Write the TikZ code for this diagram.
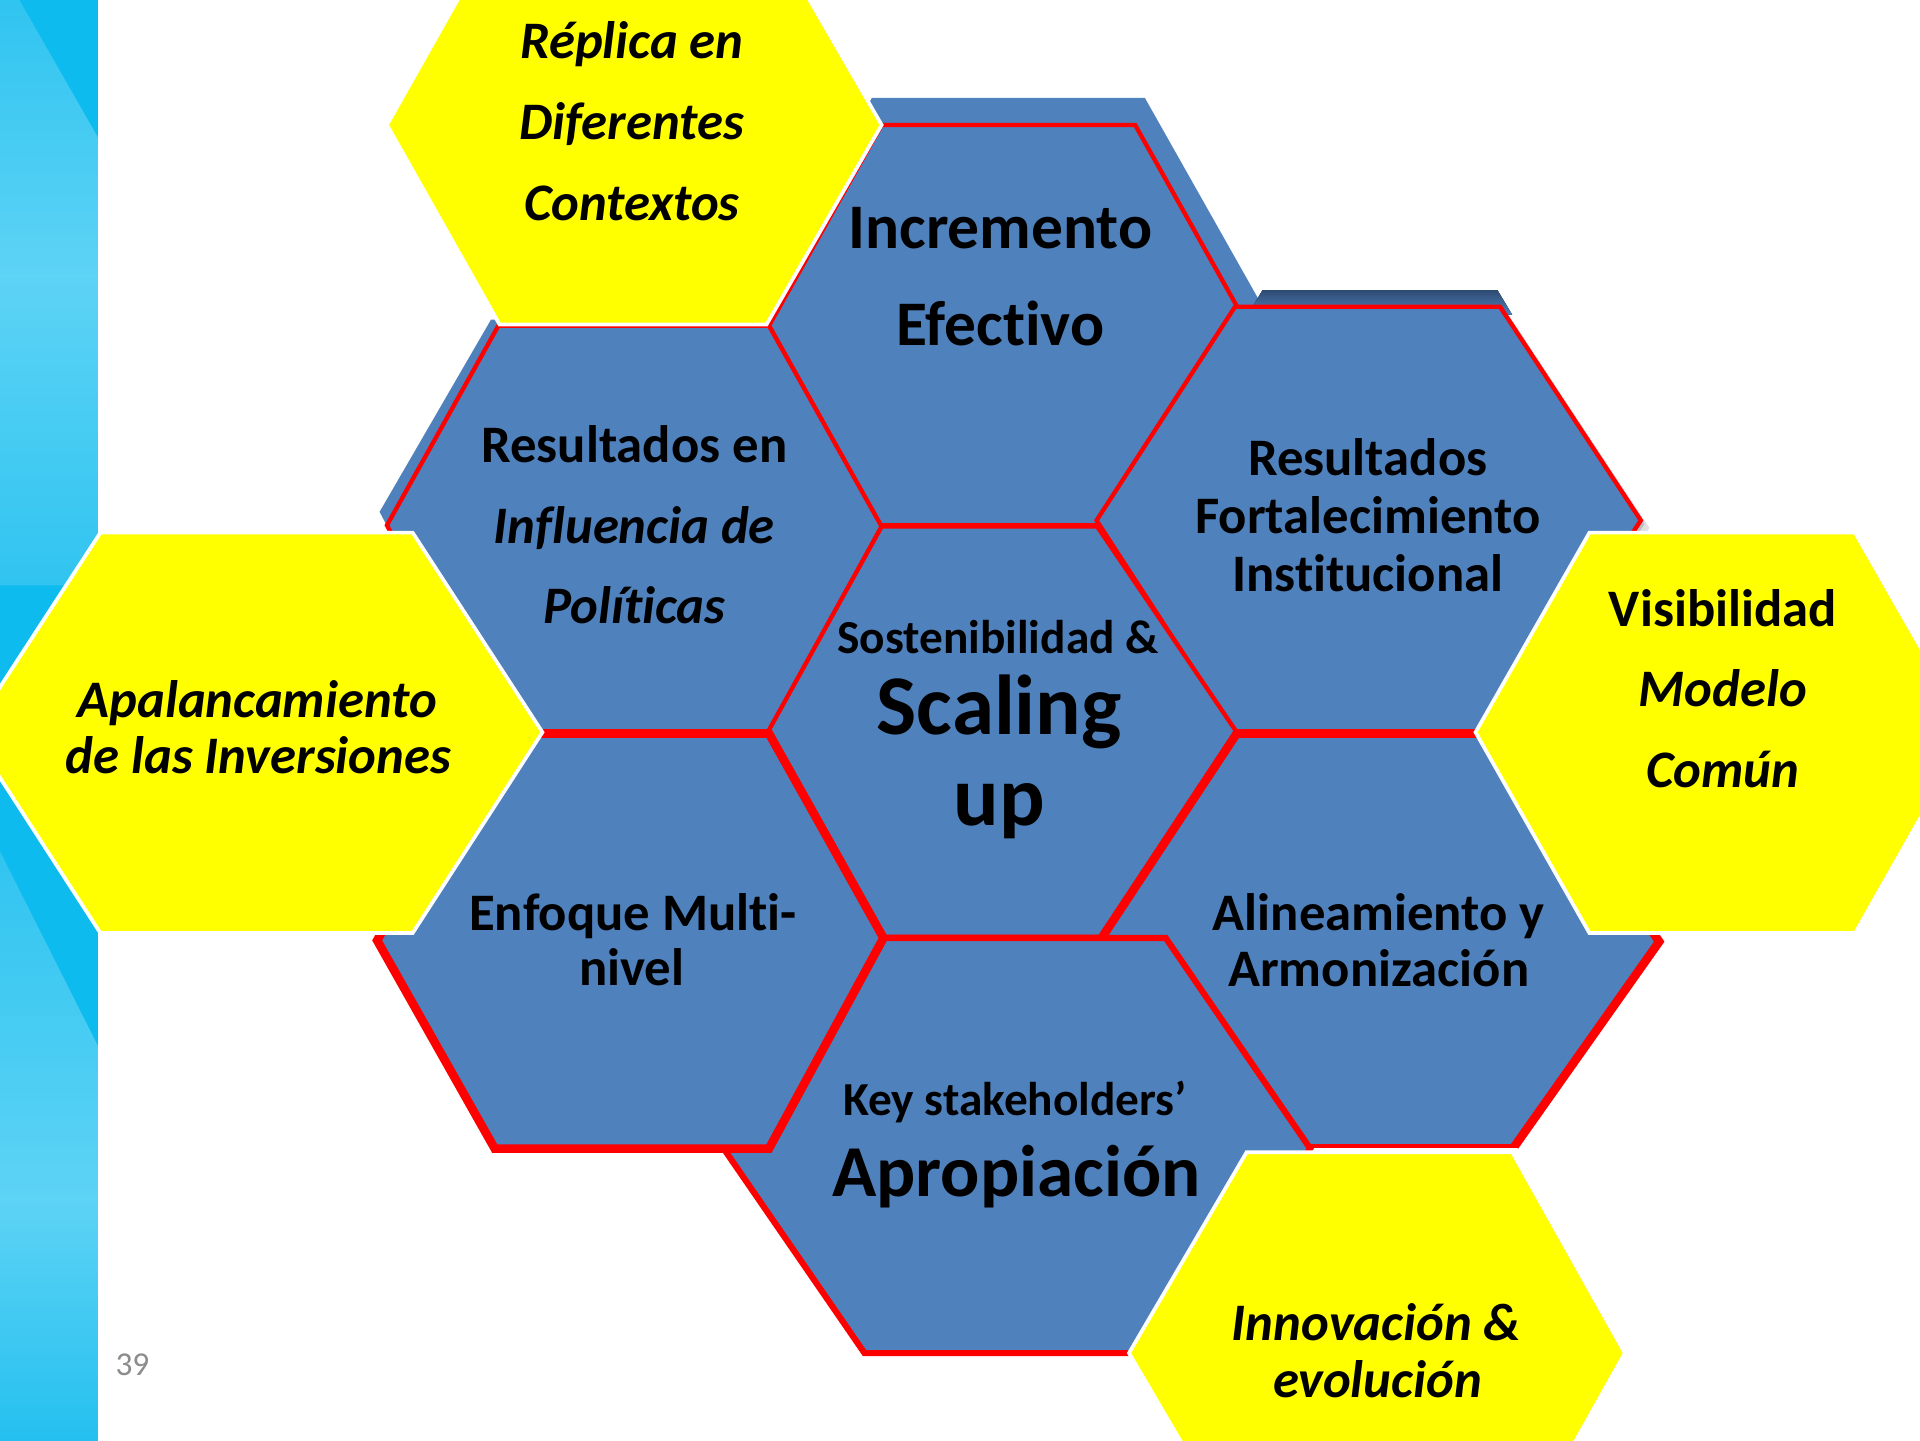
\documentclass[tikz,border=0pt]{standalone}
\usepackage{fontspec}
\setmainfont{Carlito}[Ligatures=NoCommon]
\definecolor{hexblue}{HTML}{4F81BD}
\definecolor{hexred}{HTML}{FF0000}
\definecolor{hexyellow}{HTML}{FFFF00}
\definecolor{stripdark}{HTML}{0DBBEE}
\definecolor{stripmid}{HTML}{30C4F0}
\definecolor{striplight}{HTML}{5DD3F5}
\definecolor{stripbot}{HTML}{25C0EF}
\definecolor{shadownavy}{HTML}{2E4B72}
\definecolor{pagegray}{HTML}{8C8C8C}
\begin{document}
\begin{tikzpicture}[x=0.2mm,y=-0.2mm, line join=miter,
  bluehex/.style={fill=hexblue},
  thinred/.style={draw=hexred, line width=2pt},
  medred/.style={draw=hexred, line width=2.85pt},
  thickred/.style={draw=hexred, line width=4pt},
  yhex/.style={fill=hexyellow, draw=white, line width=1.7pt},
  lbl/.style={anchor=base, inner sep=0pt, font=\bfseries\fontsize{24.5}{29}\selectfont},
  ilbl/.style={anchor=base, inner sep=0pt, font=\bfseries\itshape\fontsize{24.5}{29}\selectfont},
]
\useasboundingbox (0,0) rectangle (1568,1176);
\fill[white] (0,0) rectangle (1568,1176);

% ---- left strip ----
\fill[top color=stripmid, bottom color=striplight] (0,0) rectangle (80,225);
\fill[top color=striplight, bottom color=stripmid] (0,225) rectangle (80,480);
\fill[stripdark] (16,0) -- (80,0) -- (80,112) -- cycle;
\fill[stripdark] (0,478) -- (60,478) -- (0,570) -- cycle;
\fill[top color=stripmid, bottom color=striplight] (0,690) rectangle (80,980);
\fill[top color=striplight, bottom color=stripbot] (0,980) rectangle (80,1176);
\fill[stripdark] (0,540) -- (80,540) -- (80,854) -- (0,695) -- cycle;

% ---- B1 Incremento Efectivo ----
\fill[hexblue] (606,266) -- (712,80) -- (935,80) -- (1040,266) -- (935,452) -- (712,452) -- cycle;
\path[bluehex, thinred] (628,266) -- (720,102) -- (927,102) -- (1019,266) -- (927,429) -- (719,429) -- cycle;

% ---- B2 Resultados en Influencia ----
\fill[hexblue] (310,418) -- (401,261) -- (622,261) -- (714,425) -- (622,590) -- (401,590) -- cycle;
\path[bluehex, thinred] (316,429) -- (407,266) -- (628,266) -- (720,430) -- (628,598) -- (407,598) -- cycle;

% ---- B3 Resultados Fortalecimiento ----
\fill[top color=shadownavy, bottom color=hexblue] (1031,237) -- (1223,237) -- (1235,257) -- (1019,257) -- cycle;
\fill[black, opacity=0.12] (902,431) -- (1015,257) -- (1232,257) -- (1347,431) -- (1232,605) -- (1015,605) -- cycle;
\fill[black, opacity=0.15] (899,428) -- (1012,254) -- (1228,254) -- (1343,428) -- (1228,602) -- (1012,602) -- cycle;
\path[bluehex, thinred] (895.5,425) -- (1008.6,250.5) -- (1225,250.5) -- (1340,425) -- (1225,599) -- (1008.6,599) -- cycle;

% ---- B0 centre ----
\path[bluehex, thinred] (627.5,597) -- (720,430) -- (896,430) -- (1010,598) -- (901,765) -- (722,765) -- cycle;

% ---- B5 Alineamiento ----
\fill[hexblue] (899,767) -- (1010,599) -- (1240,599) -- (1355,769) -- (1237,936) -- (1010,936) -- cycle;
\draw[thickred] (1010,936) -- (899,767) -- (1010,599) -- (1240,599) -- (1355,769) -- (1237,936);
\draw[thinred] (1239,936) -- (1010,936);

% ---- B6 Apropiacion ----
\path[bluehex, medred] (591,938) -- (722,766) -- (952,766) -- (1070,938) -- (959,1105) -- (706,1105) -- cycle;

% ---- B4 Enfoque ----
\path[bluehex, thickred] (308,768) -- (404,599) -- (628,599) -- (721.5,766) -- (628,938) -- (404,938) -- cycle;

% ---- yellow hexagons ----
\path[yhex] (316,102) -- (408,-61) -- (626,-61) -- (720,102) -- (626,265) -- (408,265) -- cycle;
\path[yhex] (-24,598) -- (82,435) -- (337,435) -- (443,598) -- (337,762) -- (82,762) -- cycle;
\path[yhex] (1205,598) -- (1298,435) -- (1515,435) -- (1608,598) -- (1515,762) -- (1298,762) -- cycle;
\path[yhex] (922,1105) -- (1018,941) -- (1235,941) -- (1327,1105) -- (1235,1269) -- (1018,1269) -- cycle;

% ---- texts ----
\node[ilbl] (r1) at (516,48) {Réplica en};
\node[ilbl] (r2) at (516,114) {Diferentes};
\node[ilbl] (r3) at (516,180) {Contextos};

\node[lbl, font=\bfseries\fontsize{29.5}{35}\selectfont] (i1) at (817,203) {Incremento};
\node[lbl, font=\bfseries\fontsize{29.5}{35}\selectfont] (i2) at (817,282) {Efectivo};

\node[lbl] (p1) at (518,378) {Resultados en};
\node[ilbl] (p2) at (518,444) {Influencia de};
\node[ilbl] (p3) at (518,509) {Políticas};

\node[lbl] (f1) at (1117,388) {Resultados};
\node[lbl] (f2) at (1117,436) {Fortalecimiento};
\node[lbl] (f3) at (1117,483) {Institucional};

\node[lbl, font=\bfseries\fontsize{22}{26}\selectfont] (s1) at (815,534) {Sostenibilidad \&};
\node[lbl, font=\bfseries\fontsize{39.5}{47}\selectfont] (s2) at (816,600) {Scaling};
\node[lbl, font=\bfseries\fontsize{39.5}{47}\selectfont] (s3) at (816,674) {up};

\node[ilbl] (a1) at (210,586) {Apalancamiento};
\node[ilbl] (a2) at (211,632) {de las Inversiones};

\node[lbl] (v1) at (1407,512) {Visibilidad};
\node[ilbl] (v2) at (1407,577) {Modelo};
\node[ilbl] (v3) at (1407,643) {Común};

\node[lbl] (e1) at (517,760) {Enfoque Multi-};
\node[lbl] (e2) at (516,805) {nivel};

\node[lbl] (l1) at (1126,760) {Alineamiento y};
\node[lbl] (l2) at (1126,806) {Armonización};

\node[lbl, font=\bfseries\fontsize{22}{26}\selectfont] (k1) at (829,911) {Key stakeholders’};
\node[lbl, font=\bfseries\fontsize{34}{40}\selectfont] (k2) at (830,977) {Apropiación};

\node[ilbl] (n1) at (1124,1095) {Innovación \&};
\node[ilbl] (n2) at (1125,1141) {evolución};

\node[anchor=base west, inner sep=0pt, text=pagegray, font=\fontsize{15.5}{18}\selectfont] (pg) at (94,1123) {39};
\end{tikzpicture}
\end{document}
